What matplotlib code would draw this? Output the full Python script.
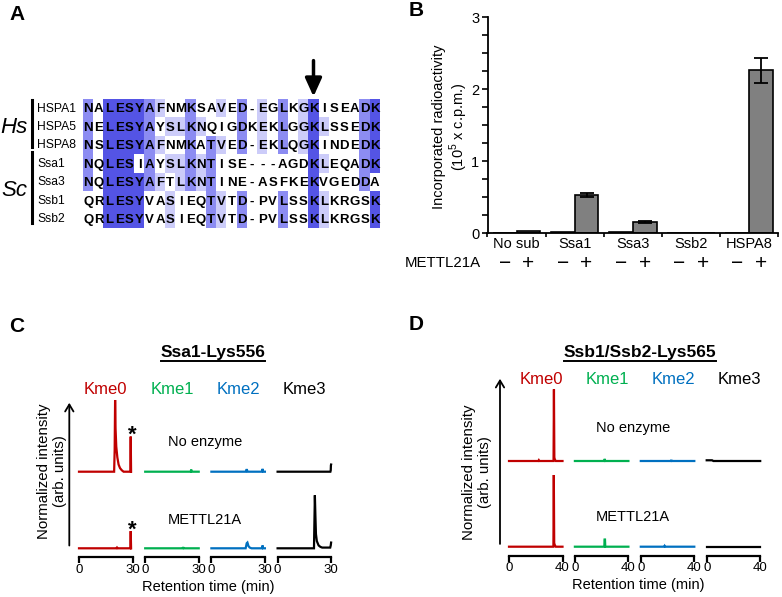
import numpy as np
import matplotlib
matplotlib.use('Agg')
import matplotlib.pyplot as plt
from matplotlib.ticker import MultipleLocator
from matplotlib.lines import Line2D
from matplotlib.patches import FancyArrowPatch
from collections import Counter

plt.rcParams['font.family'] = ['Liberation Sans', 'DejaVu Sans']
plt.rcParams['mathtext.fontset'] = 'custom'
plt.rcParams['mathtext.rm'] = 'Liberation Sans'

# ---------------- data ----------------
# A: alignment around the methylated lysine
seq_names = ['HSPA1', 'HSPA5', 'HSPA8', 'Ssa1', 'Ssa3', 'Ssb1', 'Ssb2']
seqs = ['NALESYAFNMKSAVED-EGLKGKISEADK',
        'NELESYAYSLKNQIGDKEKLGGKLSSEDK',
        'NSLESYAFNMKATVED-EKLQGKINDEDK',
        'NQLESIAYSLKNTISE---AGDKLEQADK',
        'NQLESYAFTLKNTINE-ASFKEKVGEDDA',
        'QRLESYVASIEQTVTD-PVLSSKLKRGSK',
        'QRLESYVASIEQTVTD-PVLSSKLKRGSK']
site_col = 22   # the K under the arrow

# B: incorporated radioactivity (10^5 c.p.m.)
substrates = ['No sub', 'Ssa1', 'Ssa3', 'Ssb2', 'HSPA8']
minus_vals = [0.01, 0.02, 0.015, 0.01, 0.01]
plus_vals = [0.03, 0.535, 0.155, 0.01, 2.265]
plus_err = [0.0, 0.03, 0.015, 0.0, 0.175]

channels = ['Kme0', 'Kme1', 'Kme2', 'Kme3']
conditions = ['No enzyme', 'METTL21A']

# C: Ssa1-Lys556 traces, (retention time, normalized intensity)
ssa1_none_kme0 = [(0, 0), (19.7, 0), (20.0, 0.3), (20.25, 1.0), (20.5, 0.6), (20.9, 0.35),
                  (21.5, 0.2), (22.2, 0.1), (23, 0.05), (24, 0.02), (25, 0), (28.8, 0),
                  (29.0, 0.49), (29.2, 0)]
ssa1_none_kme1 = [(0, 0), (25.5, 0), (25.8, 0.03), (26.1, 0), (30, 0)]
ssa1_none_kme2 = [(0, 0), (19.3, 0), (19.8, 0.035), (20.3, 0), (28.4, 0), (28.7, 0.04),
                  (29.0, 0), (30, 0)]
ssa1_none_kme3 = [(0, 0), (29.6, 0), (29.8, 0.02), (29.9, 0.09), (30, 0.1)]
ssa1_enz_kme0 = [(0, 0), (21, 0), (21.3, 0.01), (21.6, 0), (28.8, 0), (29.0, 0.24), (29.2, 0)]
ssa1_enz_kme1 = [(0, 0), (21, 0), (21.3, 0.015), (21.6, 0), (30, 0)]
ssa1_enz_kme2 = [(0, 0), (19.2, 0), (19.8, 0.07), (20.2, 0.08), (20.8, 0.03), (21.5, 0.01),
                 (22.5, 0), (28.4, 0), (28.7, 0.04), (29.0, 0), (30, 0)]
ssa1_enz_kme3 = [(0, 0), (20.4, 0), (20.6, 0.3), (20.9, 0.74), (21.2, 0.45), (21.5, 0.2),
                 (22, 0.1), (23, 0.04), (24, 0.02), (25, 0.01), (29.5, 0.01), (29.8, 0.04),
                 (30, 0.08)]

# D: Ssb1/Ssb2-Lys565 traces
ssb_none_kme0 = [(0, 0), (22, 0), (22.3, 0.01), (22.6, 0), (33.3, 0), (33.6, 1.0),
                 (33.9, 0.05), (34.3, 0.02), (35, 0), (40, 0)]
ssb_none_kme1 = [(0, 0), (22, 0), (22.3, 0.03), (22.6, 0), (40, 0)]
ssb_none_kme2 = [(0, 0), (22.5, 0), (22.8, 0.015), (23.1, 0), (40, 0)]
ssb_none_kme3 = [(0, 0.01), (4, 0.01), (5, 0), (40, 0)]
ssb_enz_kme0 = [(0, 0), (33.2, 0), (33.5, 1.0), (33.8, 0.05), (34.3, 0.02), (35, 0), (40, 0)]
ssb_enz_kme1 = [(0, 0), (22, 0), (22.2, 0.1), (22.5, 0.1), (22.7, 0), (40, 0)]
ssb_enz_kme2 = [(0, 0), (17.5, 0), (17.8, 0.01), (18.1, 0), (40, 0)]
ssb_enz_kme3 = [(0, 0), (40, 0)]

# ---------------- figure ----------------
W, H = 782, 597
fig = plt.figure(figsize=(W / 100, H / 100), dpi=100)


def box(l, t, r, b):
    return [l / W, 1 - b / H, (r - l) / W, (b - t) / H]


def ftext(x, y, s, **kw):
    kw.setdefault('ha', 'center')
    kw.setdefault('va', 'center')
    return fig.text(x / W, 1 - y / H, s, **kw)


def fline(xs, ys, **kw):
    fig.add_artist(Line2D([x / W for x in xs], [1 - y / H for y in ys],
                          transform=fig.transFigure, **kw))


def farrow(x, y0, y1):
    fig.add_artist(FancyArrowPatch((x / W, 1 - y0 / H), (x / W, 1 - y1 / H),
                                   transform=fig.transFigure,
                                   arrowstyle='->,head_width=0.3,head_length=0.5',
                                   mutation_scale=10, lw=1.3, color='k'))


# panel letters
ftext(17, 15, 'A', fontsize=15, fontweight='bold')
ftext(416, 11, 'B', fontsize=15, fontweight='bold')
ftext(17, 326, 'C', fontsize=15, fontweight='bold')
ftext(416, 325, 'D', fontsize=15, fontweight='bold')

# ---- A ----
pid_colors = [(0.33, 0.33, 0.90), (0.55, 0.55, 0.95), (0.80, 0.80, 0.98)]
nrow, ncol = len(seqs), len(seqs[0])
shade = np.ones((nrow, ncol, 3))
for j in range(ncol):
    col = [s[j] for s in seqs]
    res, n = Counter(c for c in col if c != '-').most_common(1)[0]
    frac = n / nrow
    if frac > 0.8:
        level = 0
    elif frac > 0.6:
        level = 1
    elif frac > 0.4:
        level = 2
    else:
        continue
    for i in range(nrow):
        if col[i] == res:
            shade[i, j] = pid_colors[level]

ax_a = fig.add_axes(box(83.3, 99.3, 380, 228.3))
ax_a.imshow(shade, extent=(0, ncol, nrow, 0), aspect='auto', interpolation='nearest')
for i, s in enumerate(seqs):
    for j, c in enumerate(s):
        ax_a.text(j + 0.5, i + 0.55, c, ha='center', va='center',
                  fontsize=9.5, fontweight='bold')
    ax_a.text(-4.5, i + 0.5, seq_names[i], ha='left', va='center', fontsize=8.7)
ax_a.set_xlim(0, ncol)
ax_a.set_ylim(nrow, 0)
ax_a.axis('off')
ax_a.annotate('', xy=(site_col + 0.5, -0.15), xytext=(site_col + 0.5, -2.1),
              arrowprops=dict(arrowstyle='-|>,head_width=0.5,head_length=1.1',
                              lw=2.5, color='k', mutation_scale=10,
                              shrinkA=0, shrinkB=0),
              annotation_clip=False)
ftext(14, 127.7, 'Hs', fontsize=16, style='italic')
ftext(14, 190, 'Sc', fontsize=16, style='italic')
fline([32.3, 32.3], [100, 146.7], lw=2.2, color='k')
fline([32.3, 32.3], [151.7, 223.3], lw=2.2, color='k')

# ---- B ----
ax_b = fig.add_axes(box(487.5, 17.3, 778, 233.3))
x = np.arange(len(substrates))
bw = 0.41
ax_b.bar(x - bw / 2, minus_vals, bw, color='#808080', edgecolor='k', lw=1.2)
ax_b.bar(x + bw / 2, plus_vals, bw, color='#808080', edgecolor='k', lw=1.2)
has_err = np.array(plus_err) > 0
ax_b.errorbar((x + bw / 2)[has_err], np.array(plus_vals)[has_err],
              yerr=np.array(plus_err)[has_err], fmt='none', ecolor='k',
              elinewidth=1.3, capsize=5, capthick=1.3)
ax_b.set_xlim(-0.5, len(substrates) - 0.5)
ax_b.set_ylim(0, 3)
ax_b.set_yticks([0, 1, 2, 3])
ax_b.yaxis.set_minor_locator(MultipleLocator(0.25))
ax_b.set_xticks(np.arange(-0.5, len(substrates), 1))
ax_b.set_xticklabels([])
ax_b.set_xticks(x, minor=True)
ax_b.set_xticklabels(substrates, minor=True)
ax_b.tick_params(axis='x', which='major', length=3, width=1.2)
ax_b.tick_params(axis='x', which='minor', length=0, pad=3, labelsize=10.5)
ax_b.tick_params(axis='y', which='both', length=4, width=1.2, labelsize=10.5, pad=2)
for sp in ['top', 'right']:
    ax_b.spines[sp].set_visible(False)
for sp in ['left', 'bottom']:
    ax_b.spines[sp].set_linewidth(1.3)
ftext(451, 127, 'Incorporated radioactivity\n(10$^5$ x c.p.m.)', fontsize=10.5,
      rotation=90, linespacing=1.15)
ftext(443, 263, 'METTL21A', fontsize=10.8)
for xi in x:
    ax_b.text(xi - bw / 2, -0.138, '\u2212', transform=ax_b.get_xaxis_transform(),
              ha='center', va='center', fontsize=15, fontweight='light')
    ax_b.text(xi + bw / 2, -0.138, '+', transform=ax_b.get_xaxis_transform(),
              ha='center', va='center', fontsize=15, fontweight='light')

# ---- C / D ----
ch_colors = ['#c00000', '#00b050', '#0070c0', 'black']
unit = 71.7     # pixels per normalized unit
head = 1.1


def trace_panel(x_left, x_step, base_top, base_bot, spine_y, t_max, top_traces, bot_traces):
    for k in range(4):
        l = x_left + k * x_step
        r = l + 53.5
        ax_t = fig.add_axes(box(l, base_top - head * unit, r, base_top))
        ax_m = fig.add_axes(box(l, base_bot - head * unit, r, spine_y))
        for ax, tr in [(ax_t, top_traces[k]), (ax_m, bot_traces[k])]:
            t, y = zip(*tr)
            ax.plot(t, y, color=ch_colors[k], lw=1.6, clip_on=False,
                    solid_joinstyle='miter')
            ax.set_xlim(0, t_max)
            ax.patch.set_visible(False)
        ax_t.set_ylim(0, head)
        ax_t.axis('off')
        ax_m.set_ylim(-(spine_y - base_bot) / unit, head)
        for sp in ['top', 'right', 'left']:
            ax_m.spines[sp].set_visible(False)
        ax_m.spines['bottom'].set_linewidth(1.6)
        ax_m.set_yticks([])
        ax_m.set_xticks([0, t_max])
        ax_m.tick_params(axis='x', length=4, width=1.6, pad=1, labelsize=9.5)


trace_panel(79, 66.2, 471.7, 548.3, 557, 30,
            [ssa1_none_kme0, ssa1_none_kme1, ssa1_none_kme2, ssa1_none_kme3],
            [ssa1_enz_kme0, ssa1_enz_kme1, ssa1_enz_kme2, ssa1_enz_kme3])
trace_panel(509, 65.9, 461, 546.7, 555.5, 40,
            [ssb_none_kme0, ssb_none_kme1, ssb_none_kme2, ssb_none_kme3],
            [ssb_enz_kme0, ssb_enz_kme1, ssb_enz_kme2, ssb_enz_kme3])

# labels for C
tC = ftext(213, 353, 'Ssa1-Lys556', fontsize=12.5, fontweight='bold')
for k in range(4):
    ftext(105.8 + k * 66.2, 390, channels[k], fontsize=12, color=ch_colors[k])
ftext(205, 441.7, conditions[0], fontsize=10.5)
ftext(205, 520, conditions[1], fontsize=10.5)
ftext(132, 440.8, '*', fontsize=16, fontweight='bold', va='baseline')
ftext(132, 535.3, '*', fontsize=16, fontweight='bold', va='baseline')
ftext(208, 586.7, 'Retention time (min)', fontsize=10.5)
ftext(52, 471, 'Normalized intensity\n(arb. units)', fontsize=10.8, rotation=90,
      linespacing=1.15)
farrow(69.3, 548.3, 400)

# labels for D
tD = ftext(640, 353, 'Ssb1/Ssb2-Lys565', fontsize=12.5, fontweight='bold')
for k in range(4):
    ftext(541.7 + k * 65.9, 380, channels[k], fontsize=12, color=ch_colors[k])
ftext(633, 428, conditions[0], fontsize=10.5)
ftext(633, 516.7, conditions[1], fontsize=10.5)
ftext(638, 585, 'Retention time (min)', fontsize=10.5)
ftext(477, 472.5, 'Normalized intensity\n(arb. units)', fontsize=10.8, rotation=90,
      linespacing=1.15)
farrow(500, 546.7, 376)

# underline the titles
fig.canvas.draw()
rend = fig.canvas.get_renderer()
for t in [tC, tD]:
    bb = t.get_window_extent(rend)
    fline([bb.x0, bb.x1], [361, 361], lw=1.4, color='k')

fig.savefig('out.png', dpi=100)
